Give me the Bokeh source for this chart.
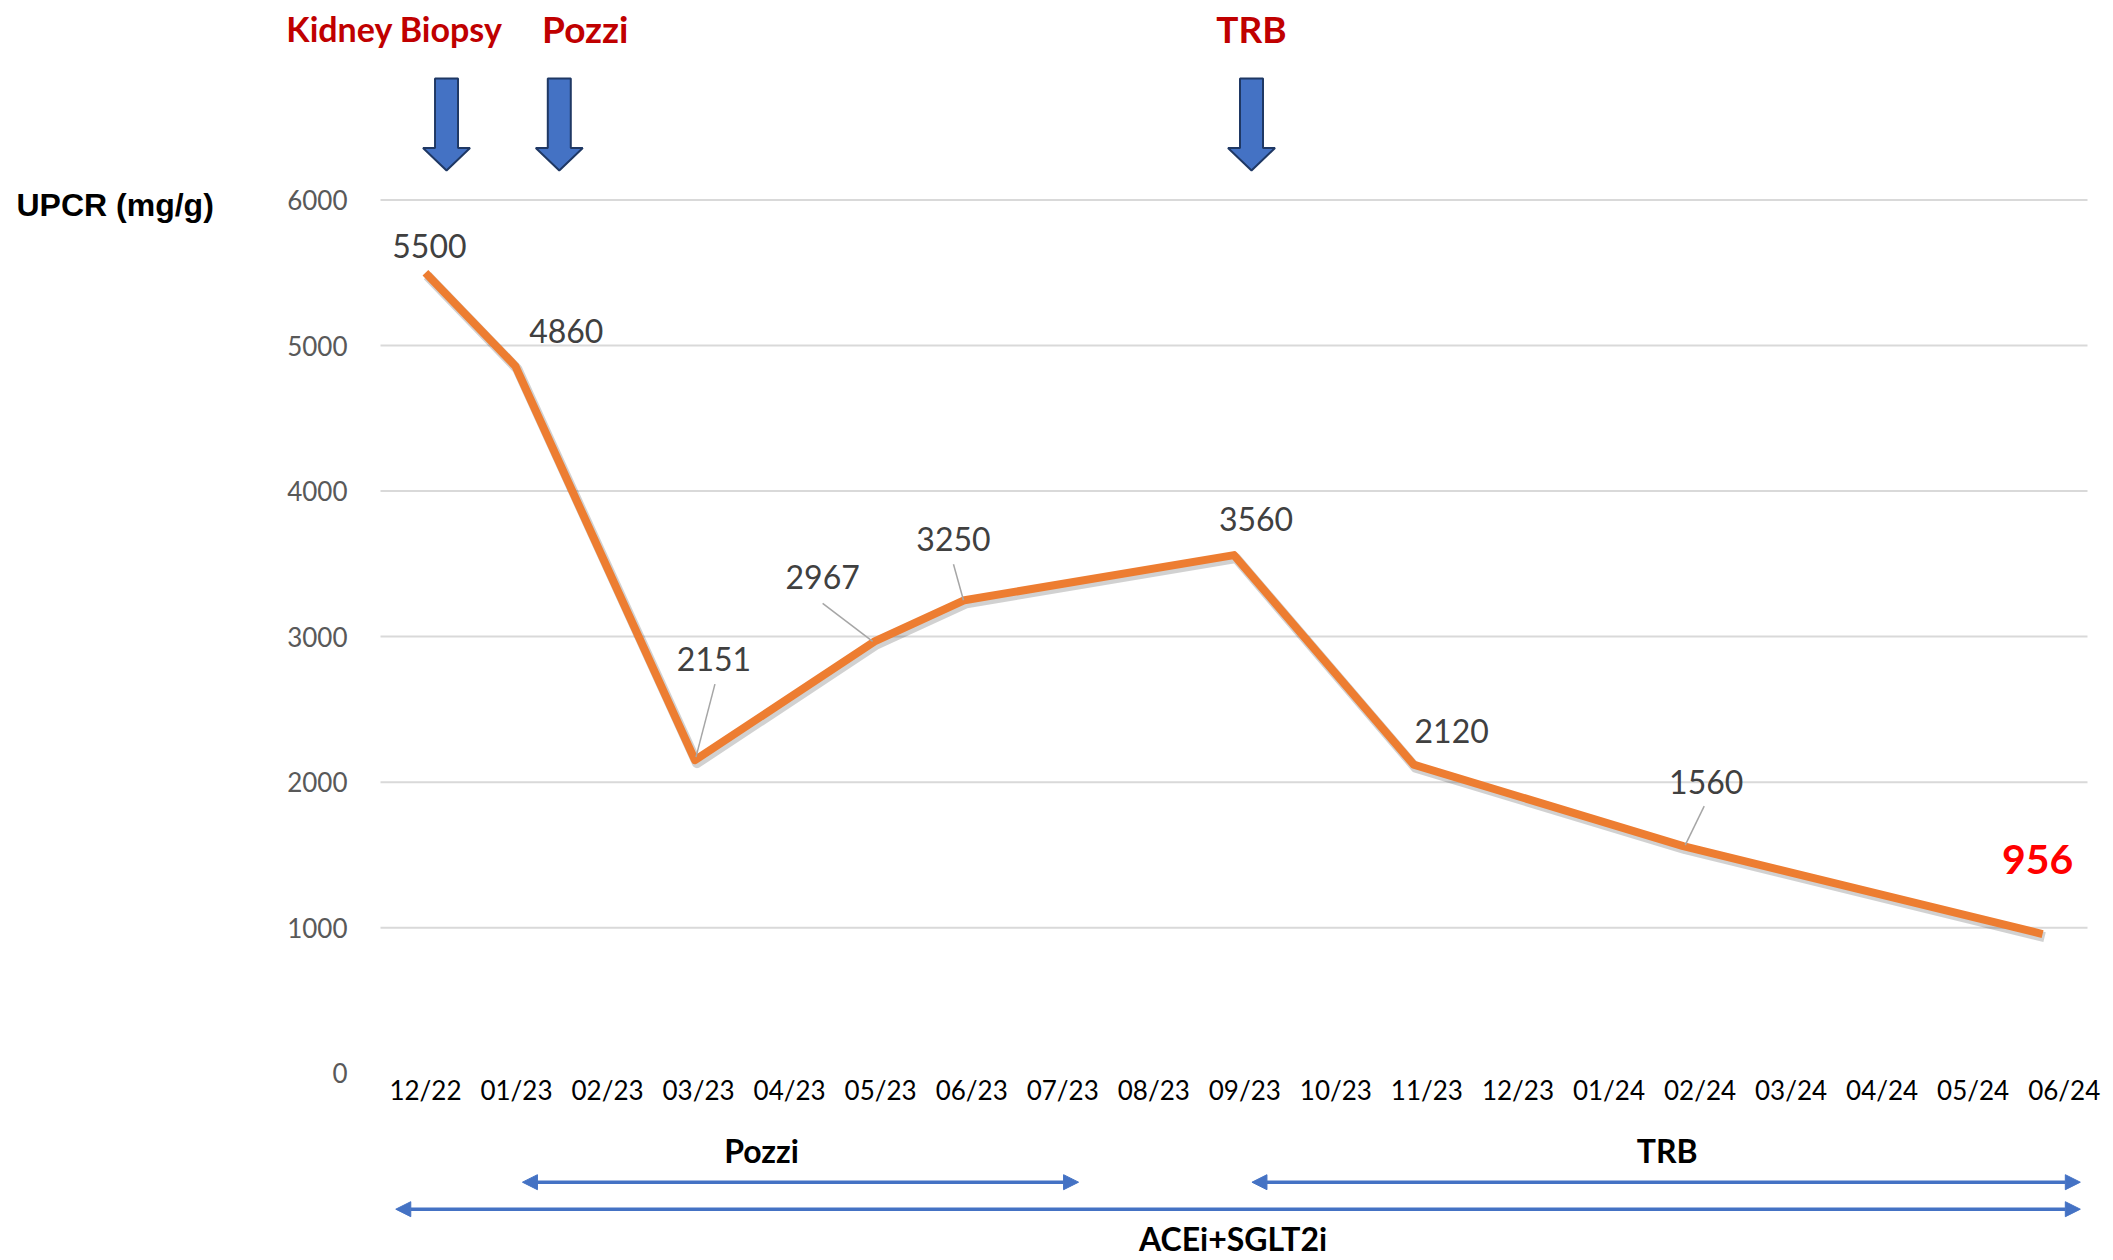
import numpy as np
from bokeh.plotting import figure
from bokeh.models import Range1d, Arrow, NormalHead
from bokeh.core.properties import value
from bokeh.embed import file_html
from bokeh.resources import INLINE

# ---------------- data ----------------
months = ["12/22", "01/23", "02/23", "03/23", "04/23", "05/23", "06/23", "07/23",
          "08/23", "09/23", "10/23", "11/23", "12/23", "01/24", "02/24", "03/24",
          "04/24", "05/24", "06/24"]
upcr = [5500, 4860, None, 2151, None, 2967, 3250, None, None, 3560, None, 2120,
        None, None, 1560, None, None, None, 956]
y_ticks = [0, 1000, 2000, 3000, 4000, 5000, 6000]
y_title = "UPCR (mg/g)"

event_names = ["Kidney Biopsy", "Pozzi", "TRB"]
event_month = [0.235, 1.49, 9.195]          # time of event, in month index

therapy_names = ["Pozzi", "TRB", "ACEi+SGLT2i"]
therapy_start = [1.08, 9.2, -0.33]          # in month index
therapy_end = [7.27, 18.42, 18.42]

# ---------------- layout / style ----------------
W, H = 2113, 1260
PX_X = 1707.0 / len(months)                 # px per month
PX_Y = 873.2 / max(y_ticks)                 # px per mg/g
LEFT_PX = 380.0                             # px from canvas left to first band edge
TOP_PX = 199.5                              # px from canvas top to top tick
x0 = -0.5 - LEFT_PX / PX_X
x1 = x0 + W / PX_X
y1 = max(y_ticks) + TOP_PX / PX_Y
y0 = y1 - H / PX_Y


def dx(px):
    return px / PX_X


def dy(px):  # screen px (down positive) -> data offset
    return -px / PX_Y


FONT = value("Lato")
ORANGE = "#ED7D31"
BLUE = "#4472C4"

p = figure(width=W, height=H, x_range=Range1d(x0, x1), y_range=Range1d(y0, y1),
           x_axis_type=None, y_axis_type=None, toolbar_location=None,
           output_backend="svg", min_border=0, outline_line_color=None,
           background_fill_color="white", border_fill_color="white")

n = len(months)
band_lo, band_hi = -0.5, n - 0.5

# gridlines
grid_vals = [t for t in y_ticks if t > 0]
p.segment(x0=[band_lo] * len(grid_vals), x1=[band_hi] * len(grid_vals),
          y0=grid_vals, y1=grid_vals, line_color="#D9D9D9", line_width=2)

# y tick labels
p.text(x=[band_lo] * len(y_ticks), y=y_ticks, text=[str(t) for t in y_ticks],
       x_offset=-33, text_align="right", text_baseline="middle",
       text_color="#595959", text_font=FONT, text_font_size="26px")

# x tick labels
p.text(x=list(range(n)), y=[0] * n, text=months,
       x_offset=[1.2 * i for i in range(n)], y_offset=17,
       text_align="center", text_baseline="middle",
       text_color="#000000", text_font=FONT, text_font_size="26px")

# y title
p.text(x=[band_lo], y=[max(y_ticks)], text=[y_title], x_offset=-364, y_offset=5,
       text_align="left", text_baseline="middle", text_color="#000000",
       text_font=value("Liberation Sans"), text_font_style="bold",
       text_font_size="32px")

# series
idx = [i for i, v in enumerate(upcr) if v is not None]
vals = [upcr[i] for i in idx]
xs = np.array(idx, dtype=float)
ys = np.array(vals, dtype=float)

p.line(xs + dx(2), ys + dy(3), line_color="black", line_alpha=0.18,
       line_width=10, line_join="round")
p.line(xs, ys, line_color=ORANGE, line_width=8, line_join="round")

# data labels (px offsets from point)
lab_dx = [4, 51, 19, -52, -11, 22, 38, 23, -5]
lab_dy = [-27, -35, -101, -64, -61, -36, -34, -64, -75]
p.text(x=xs[:-1], y=ys[:-1], text=[str(v) for v in vals[:-1]],
       x_offset=lab_dx[:-1], y_offset=lab_dy[:-1],
       text_align="center", text_baseline="middle", text_color="#404040",
       text_font=FONT, text_font_size="32px")
p.text(x=xs[-1:], y=ys[-1:], text=[str(vals[-1])],
       x_offset=lab_dx[-1], y_offset=lab_dy[-1],
       text_align="center", text_baseline="middle", text_color="#FF0000",
       text_font=FONT, text_font_style="bold", text_font_size="41px")

# leader lines (point index, start px, end px)
leaders = {2: ((1, -3), (20, -76)), 3: ((-2, 0), (-52, -38)),
           4: ((-1, 0), (-11, -36)), 7: ((2, -1), (21, -40))}
lx0, ly0, lx1, ly1 = [], [], [], []
for k, ((sx, sy), (ex, ey)) in leaders.items():
    lx0.append(xs[k] + dx(sx)); ly0.append(ys[k] + dy(sy))
    lx1.append(xs[k] + dx(ex)); ly1.append(ys[k] + dy(ey))
p.segment(x0=lx0, y0=ly0, x1=lx1, y1=ly1, line_color="#A6A6A6", line_width=1.5)

# event arrows (block arrows above the plot)
top = max(y_ticks)
shape_px = [(-11.5, -121.5), (11.5, -121.5), (11.5, -52), (23.5, -52),
            (0, -29.5), (-23.5, -52), (-11.5, -52)]
pxs = [[e + dx(a) for a, b in shape_px] for e in event_month]
pys = [[top + dy(b) for a, b in shape_px] for e in event_month]
p.patches(pxs, pys, fill_color=BLUE, line_color="#1F3864", line_width=2)

p.text(x=event_month, y=[top] * len(event_month), text=event_names,
       x_offset=[-52, 26, 0], y_offset=-171.5,
       text_align="center", text_baseline="middle", text_color="#C00000",
       text_font=FONT, text_font_style="bold",
       text_font_size=["34px", "37px", "37px"])

# therapy bars below the axis
row_px = [109, 109, 136]
lab_off_x = [-39, 1, -5]
lab_off_y = [-32, -32, 29]
for name, s, e, r, ox, oy in zip(therapy_names, therapy_start, therapy_end,
                                 row_px, lab_off_x, lab_off_y):
    yy = 0 + dy(r)
    p.add_layout(Arrow(
        start=NormalHead(size=15, fill_color=BLUE, line_color=BLUE),
        end=NormalHead(size=15, fill_color=BLUE, line_color=BLUE),
        x_start=s, y_start=yy, x_end=e, y_end=yy,
        line_color=BLUE, line_width=3.5))
    p.text(x=[(s + e) / 2], y=[yy], text=[name], x_offset=ox, y_offset=oy,
           text_align="center", text_baseline="middle", text_color="#000000",
           text_font=FONT, text_font_style="bold", text_font_size="32px")

open("out.html", "w").write(file_html(p, INLINE))
